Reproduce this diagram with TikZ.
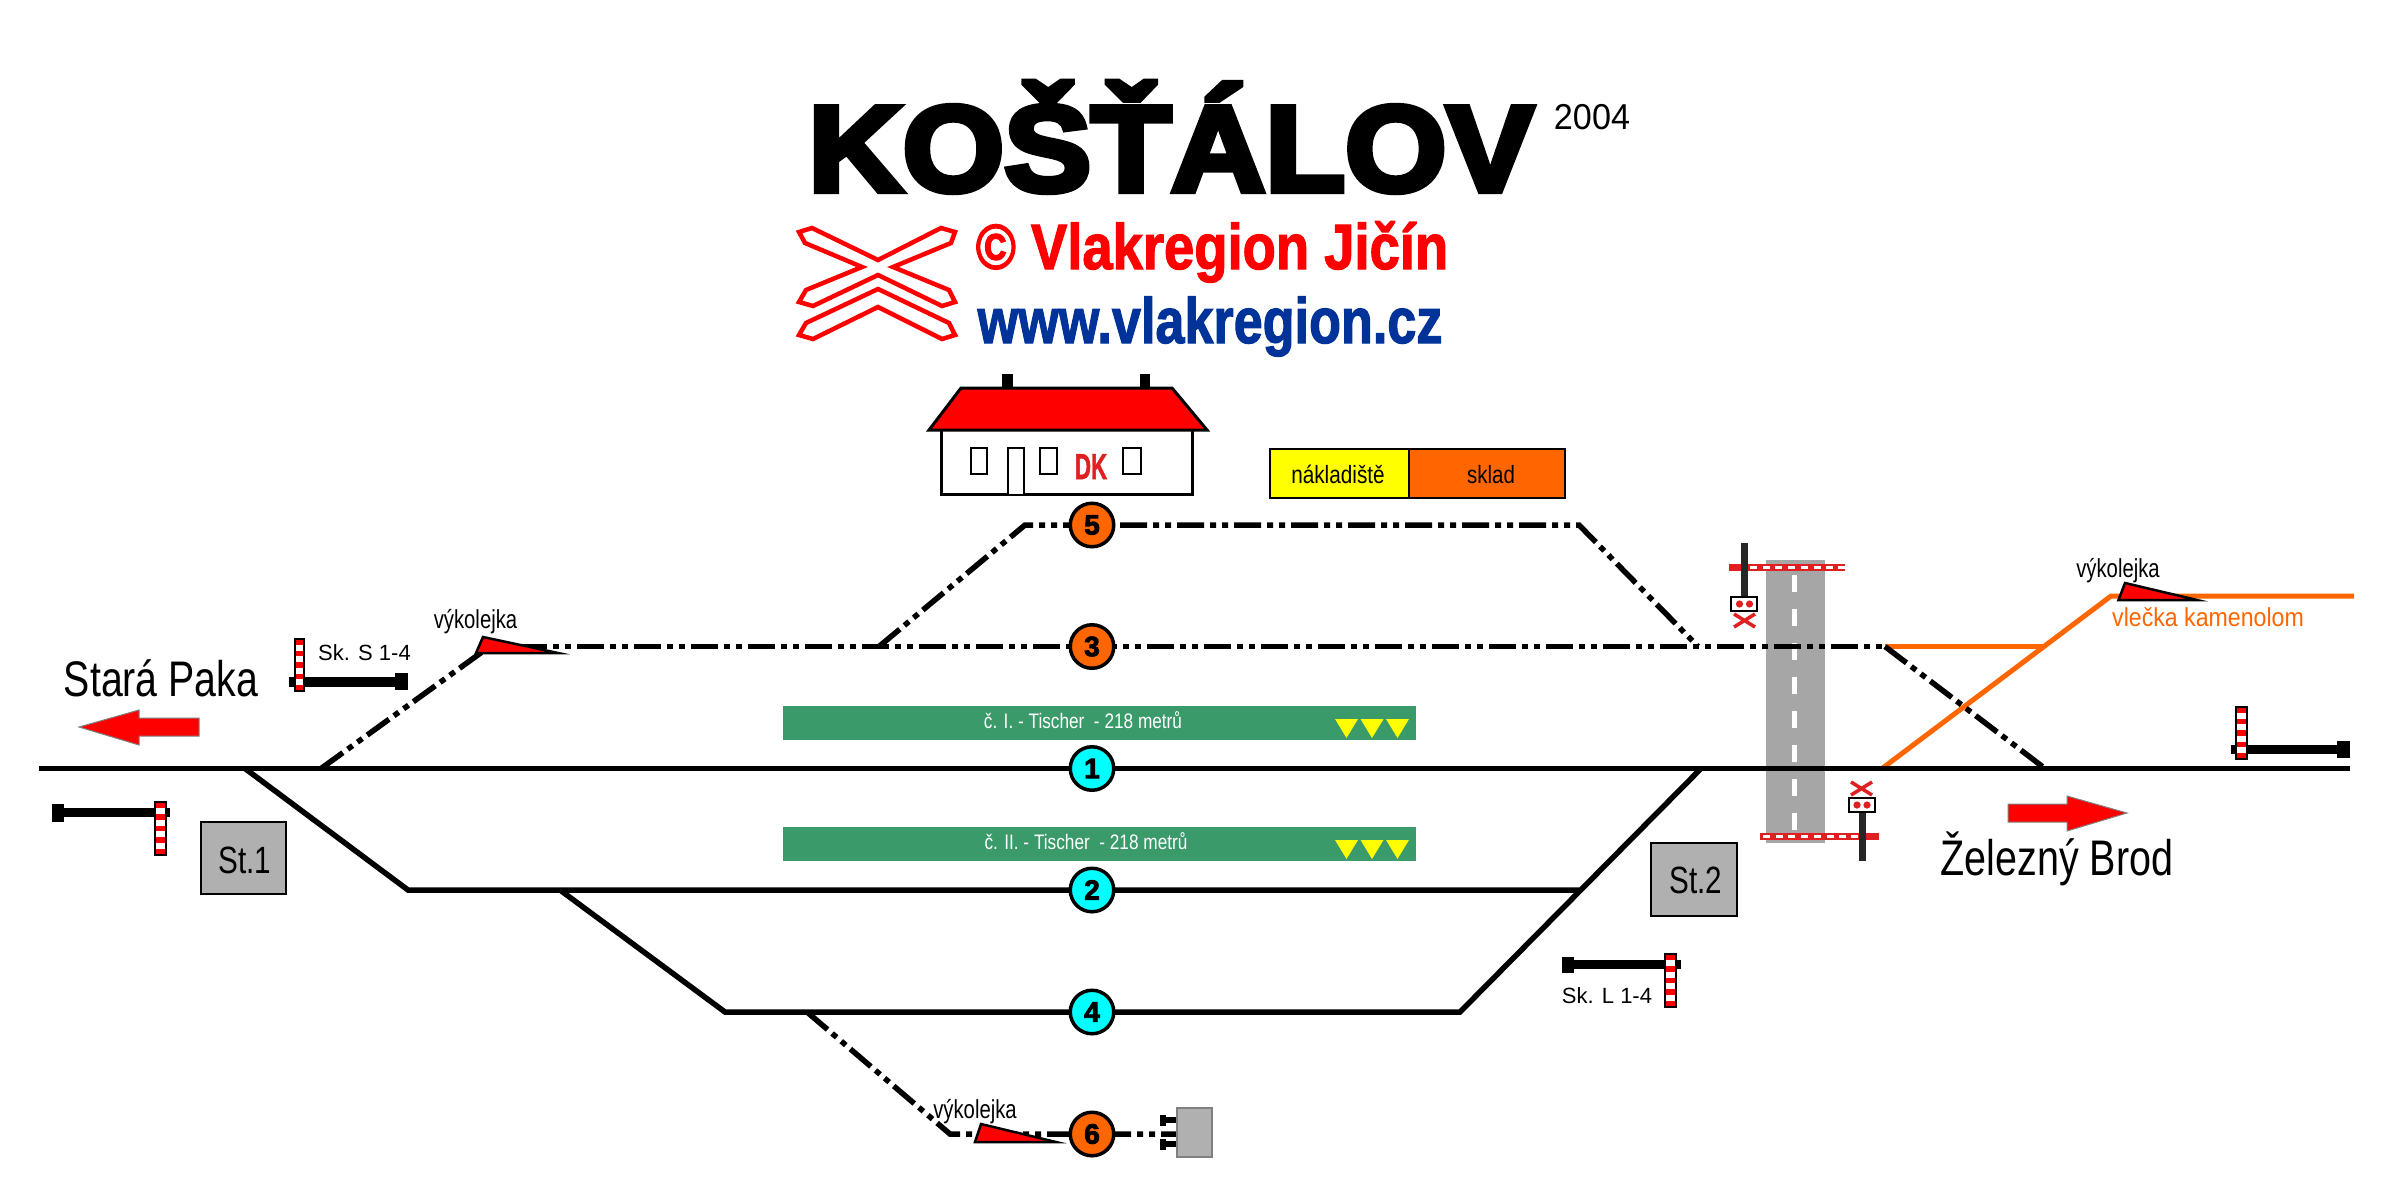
\documentclass[tikz,border=0pt]{standalone}
\usepackage{fontspec}
\usepackage{graphicx}
\setmainfont{Liberation Sans}
\newfontfamily\heavyfont[FakeBold=5]{Liberation Sans Bold}
\newfontfamily\numfont[FakeBold=3]{Liberation Sans Bold}
\newfontfamily\midheavyfont[FakeBold=2]{Liberation Sans Bold}
\newcommand\pxfont[1]{\fontsize{#1}{#1}\selectfont}
\newcommand\squeezed[2]{\scalebox{#1}[1]{#2}}
\definecolor{rwred}{HTML}{FF0000}
\definecolor{xred}{HTML}{E02020}
\definecolor{rworange}{HTML}{FF6600}
\definecolor{rwgreen}{HTML}{3A9A6A}
\definecolor{rwblue}{HTML}{003399}
\definecolor{rwgrey}{HTML}{B0B0B0}
\definecolor{road}{HTML}{A6A6A6}
\definecolor{rwcyan}{HTML}{00FFFF}
\definecolor{rwyellow}{HTML}{FFFF00}
\tikzset{
  track/.style={line width=5.5pt,black,line join=miter},
  dashtrack/.style={line width=5.5pt,black,dash pattern=on 27pt off 6pt on 6pt off 6pt on 6pt off 6pt},
  siding/.style={line width=5pt,rworange},
  label/.style={inner sep=0pt,anchor=base},
  trackno/.style={circle,draw=black,line width=3.5pt,minimum size=43.5pt,inner sep=0pt,font=\numfont\pxfont{28}},
  derailer/.style={fill=rwred,draw=black,line width=2.5pt,line join=miter},
  yardbox/.style={draw=black,line width=1.5pt,inner sep=0pt},
  stationbox/.style={fill=rwgrey,draw=black,line width=2.5pt},
  greenbar/.style={fill=rwgreen,draw=none},
  window/.style={draw=black,line width=2pt,fill=white},
  logo/.style={fill=white,draw=rwred,line width=4.5pt,line join=miter},
}
% striped signal pole: x1 x2 y1 y2
\newcommand\gatepole[4]{%
  \fill[rwred] (#1,#3) rectangle (#2,#4);
  \foreach \k in {1,3,5,7}{
    \pgfmathsetmacro\ya{#3+(#4-#3)*\k/9}
    \pgfmathsetmacro\yb{#3+(#4-#3)*(\k+1)/9}
    \fill[white] (#1,\ya) rectangle (#2,\yb);
  }
  \draw[black,line width=1.2pt] (#1,#3) rectangle (#2,#4);
}
\begin{document}
\begin{tikzpicture}[x=1pt,y=-1pt]
\useasboundingbox (0,0) rectangle (2392,1200);
\fill[white] (0,0) rectangle (2392,1200);

% headings
\node[label,font=\heavyfont\pxfont{122}] (title) at (1171,191) {\squeezed{1.07}{KOŠŤÁLOV}};
\node[label,font=\pxfont{36}] (year) at (1592,129) {\squeezed{0.95}{2004}};
\node[label,font=\midheavyfont\pxfont{64},text=rwred] (copy) at (1212,269) {\squeezed{0.85}{© Vlakregion Jičín}};
\node[label,font=\midheavyfont\pxfont{64},text=rwblue] (web) at (1210,343) {\squeezed{0.815}{www.vlakregion.cz}};

% cross logo
\draw[logo] (878,260) -- (941,228) -- (955,232) -- (951,243) -- (893,267) -- (949,290) -- (955,302) -- (942,306) -- (878,275) -- (813,306) -- (799,302) -- (806,290) -- (862,267) -- (805,243) -- (799,232) -- (812,228) -- cycle;
\draw[logo] (878,289) -- (949,323) -- (955,335) -- (942,339) -- (878,307) -- (813,339) -- (799,335) -- (806,323) -- cycle;

% station building
\fill[black] (1002,374) rectangle (1013,390);
\fill[black] (1140,374) rectangle (1150,390);
\draw[derailer,line width=3pt] (961,388) -- (1172,388) -- (1207,430) -- (929,430) -- cycle;
\draw[black,line width=3pt] (941,430) -- (941,494) -- (1192,494) -- (1192,430);
\draw[window] (971,448) rectangle (987,474);
\draw[window] (1040,448) rectangle (1057,474);
\draw[window] (1123,448) rectangle (1141,474);
\draw[window] (1008,494) -- (1008,448) -- (1024,448) -- (1024,494);
\node[label,font=\midheavyfont\pxfont{36},text=xred] (dk) at (1091,479) {\squeezed{0.62}{DK}};

% yard boxes
\draw[yardbox,fill=rwyellow] (1270,449) rectangle (1409,498);
\draw[yardbox,fill=rworange] (1409,449) rectangle (1565,498);
\node[label,font=\pxfont{25}] (nakl) at (1338,483) {\squeezed{0.83}{nákladiště}};
\node[label,font=\pxfont{25}] (skl) at (1491,483) {\squeezed{0.82}{sklad}};

% green bars
\fill[greenbar] (782.5,706) rectangle (1416,740);
\fill[greenbar] (782.5,827) rectangle (1416,861);
\node[label,font=\pxfont{21},text=white] (bar1) at (1083,728) {\squeezed{0.82}{č. I. - Tischer\ \ - 218 metrů}};
\node[label,font=\pxfont{21},text=white] (bar2) at (1086,849) {\squeezed{0.82}{č. II. - Tischer\ \ - 218 metrů}};
\foreach \yy in {719,840}{
  \foreach \xx in {1335,1360.5,1386}{
    \fill[rwyellow] (\xx,\yy) -- (\xx+23,\yy) -- (\xx+11.5,\yy+19) -- cycle;
  }
}

% road
\fill[road] (1765.5,560) rectangle (1825,843);
\foreach \yy in {575,609,643,677,711,745,779,813}{
  \fill[white] (1791.5,\yy) rectangle (1797,\yy+17);
}

% junction coordinates
\coordinate (c1) at (1092,768.5);
\coordinate (c2) at (1092,890);
\coordinate (c3) at (1092,646.5);
\coordinate (c4) at (1092,1012);
\coordinate (c5) at (1092,525);
\coordinate (c6) at (1092,1134);
\coordinate (mainW) at (39,768.5);
\coordinate (mainE) at (2349.5,768.5);
\coordinate (s1) at (245,768.5);
\coordinate (s2) at (408,890);
\coordinate (s3) at (560,890);
\coordinate (s4) at (725,1012);
\coordinate (s5) at (1460,1012);
\coordinate (s6) at (1701,768.5);
\coordinate (s7) at (1579,890);
\coordinate (d1) at (321,768.5);
\coordinate (d2) at (482,652);
\coordinate (d3) at (520,646.5);
\coordinate (d4) at (1885,646.5);
\coordinate (d5) at (2045,768.5);
\coordinate (d6) at (879,646.5);
\coordinate (d7) at (1025,525);
\coordinate (d8) at (1579,525);
\coordinate (d9) at (1698,646.5);
\coordinate (e1) at (807,1012);
\coordinate (e2) at (950,1134);
\coordinate (e3) at (1177,1134);
\coordinate (o1) at (2043,646.5);
\coordinate (o2) at (1882,768.5);
\coordinate (o3) at (2111,596);
\coordinate (o4) at (2354,596);

% orange siding
\draw[siding] (d4) -- (o1);
\draw[siding] (o2) -- (o3) -- (o4);

% dash-dotted tracks
\draw[dashtrack] (d1) -- (d2);
\draw[dashtrack] (d3) -- (c3) -- (d4);
\draw[dashtrack] (d4) -- (d5);
\draw[dashtrack] (d6) -- (d7) -- (c5) -- (d8) -- (d9);
\draw[dashtrack] (e1) -- (e2) -- (c6) -- (e3);

% solid tracks
\draw[track] (mainW) -- (c1) -- (mainE);
\draw[track] (s1) -- (s2) -- (c2) -- (s7);
\draw[track] (s3) -- (s4) -- (c4) -- (s5) -- (s6);

% track numbers
\node[trackno,fill=rwcyan] (n1) at (c1) {1};
\node[trackno,fill=rwcyan] (n2) at (c2) {2};
\node[trackno,fill=rworange] (n3) at (c3) {3};
\node[trackno,fill=rwcyan] (n4) at (c4) {4};
\node[trackno,fill=rworange] (n5) at (c5) {5};
\node[trackno,fill=rworange] (n6) at (c6) {6};

% derailers
\draw[derailer] (476,653) -- (483,637) -- (558,653) -- cycle;
\draw[derailer] (2118.5,600) -- (2125,583) -- (2197,600) -- cycle;
\draw[derailer] (975,1142) -- (981,1124) -- (1056,1142) -- cycle;
\node[label,font=\pxfont{26}] (vk1) at (475.5,628) {\squeezed{0.78}{výkolejka}};
\node[label,font=\pxfont{26}] (vk2) at (2118,577) {\squeezed{0.78}{výkolejka}};
\node[label,font=\pxfont{26}] (vk3) at (975,1118) {\squeezed{0.78}{výkolejka}};
\node[label,font=\pxfont{26},text=rworange] (vl) at (2208,626) {\squeezed{0.89}{vlečka kamenolom}};

% buffer stop with grey box
\fill[black] (1166,1117) rectangle (1177,1123);
\fill[black] (1160,1115) rectangle (1166,1126);
\fill[black] (1166,1141) rectangle (1177,1147);
\fill[black] (1160,1139) rectangle (1166,1150);
\draw[fill=rwgrey,draw=gray,line width=1.5pt] (1177,1108) rectangle (1212,1157);

% station boxes
\draw[stationbox] (201,822) rectangle (286,894);
\draw[stationbox] (1651,843) rectangle (1737,916);
\node[label,font=\pxfont{38}] (st1) at (245,873) {\squeezed{0.78}{St.1}};
\node[label,font=\pxfont{38}] (st2) at (1696,893) {\squeezed{0.78}{St.2}};

% direction labels
\node[label,font=\pxfont{50}] (stara) at (161,696) {\squeezed{0.785}{Stará Paka}};
\node[label,font=\pxfont{50}] (zel) at (2057,875) {\squeezed{0.79}{Železný Brod}};
\draw[fill=rwred,draw=gray,line width=1pt] (79,727) -- (139,710) -- (139,718) -- (199,718) -- (199,736) -- (139,736) -- (139,745) -- cycle;
\draw[fill=rwred,draw=gray,line width=1pt] (2127,813) -- (2067,796) -- (2067,804) -- (2008,804) -- (2008,822) -- (2067,822) -- (2067,831) -- cycle;

% signals
\fill[black] (289,677) rectangle (396,687);
\fill[black] (395,673) rectangle (408,690);
\gatepole{295}{304}{639}{691}
\node[label,font=\pxfont{22}] (sks) at (364.5,660) {Sk. S 1-4};

\fill[black] (64,808) rectangle (170,817);
\fill[black] (52,804) rectangle (64,822);
\gatepole{155}{166}{802}{855}

\fill[black] (2231,745) rectangle (2339,754);
\fill[black] (2337,741) rectangle (2349.5,758);
\gatepole{2236}{2247}{707}{759}

\fill[black] (1574,960) rectangle (1681,969);
\fill[black] (1562,957) rectangle (1574,973);
\gatepole{1665}{1676}{954}{1007}
\node[label,font=\pxfont{22}] (skl2) at (1607,1003) {Sk. L 1-4};

% crossing barriers
\fill[xred] (1729,564) rectangle (1845,570.5);
\foreach \xx in {1750,1762.7,1775.4,1788.1,1800.8,1813.5,1826.2,1837.5}{
  \fill[white] (\xx,565.5) rectangle (\xx+7,569);
}
\fill[xred] (1760,833) rectangle (1879,839.5);
\foreach \xx in {1763,1775.7,1788.4,1801.1,1813.8,1826.5,1839.2,1850.5}{
  \fill[white] (\xx,834.5) rectangle (\xx+7,838);
}

% crossing signals
\fill[black!85] (1741,543) rectangle (1747.5,597);
\draw[black,fill=white,line width=1.5pt] (1731,597) rectangle (1757,611);
\fill[xred] (1739.5,604) circle (3.6);
\fill[xred] (1749.5,604) circle (3.6);
\draw[xred,line width=3.5pt] (1734,614) -- (1755,627) (1755,614) -- (1734,627);

\fill[black!85] (1859,812) rectangle (1866,861);
\draw[black,fill=white,line width=1.5pt] (1849,798) rectangle (1875,812);
\fill[xred] (1857,805) circle (3.6);
\fill[xred] (1867,805) circle (3.6);
\draw[xred,line width=3.5pt] (1851,782) -- (1872,795) (1872,782) -- (1851,795);
\end{tikzpicture}
\end{document}
